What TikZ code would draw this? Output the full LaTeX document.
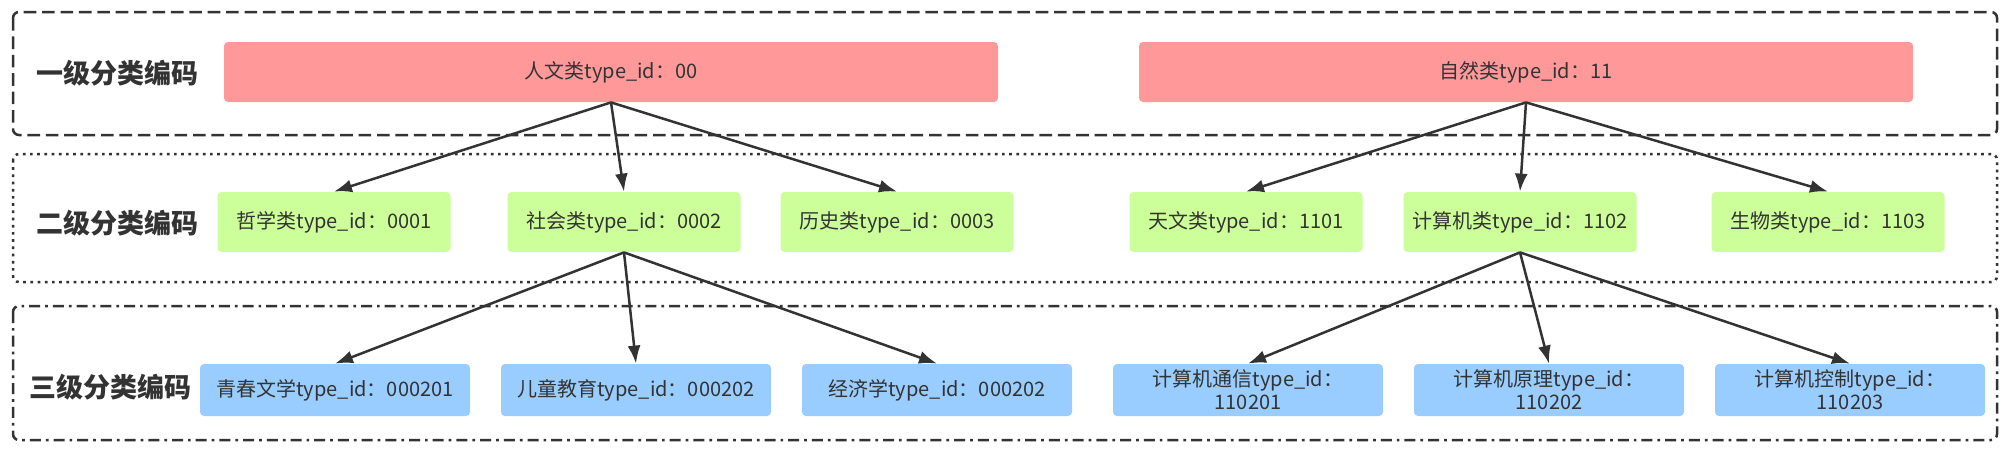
\documentclass[tikz,border=0pt]{standalone}
\usepackage{fontspec}
\setmainfont{Noto Sans CJK SC}
\usetikzlibrary{arrows.meta}
\definecolor{inkgray}{HTML}{333333}
\definecolor{redfill}{HTML}{FF9999}
\definecolor{greenfill}{HTML}{CCFF99}
\definecolor{bluefill}{HTML}{99CCFF}
\tikzset{
  catnode/.style  = {shape=rectangle, rounded corners=2pt, align=center,
                     inner sep=0pt, text=inkgray,
                     font=\fontsize{10}{11.5}\selectfont},
  first/.style    = {catnode, fill=redfill, minimum width=387pt, minimum height=30pt},
  second/.style   = {catnode, fill=greenfill, minimum width=116.5pt, minimum height=30pt},
  third/.style    = {catnode, fill=bluefill, minimum width=135pt, minimum height=26pt},
  levellabel/.style = {text=inkgray, font=\fontsize{13.5}{16}\selectfont\bfseries},
  frame/.style    = {draw=inkgray, line width=1.25pt, rounded corners=3pt}
}

\begin{document}
\begin{tikzpicture}[
    x = 0.5pt, y = -0.5pt,
    grow                    = down,
    level 1/.style          = {level distance=75pt, sibling distance=143pt},
    level 2/.style          = {level distance=84pt, sibling distance=150.5pt},
    edge from parent/.style = {draw=inkgray, line width=1.25pt, -{Latex[length=9pt,width=6.5pt]}},
    edge from parent path   = {(\tikzparentnode.south) -- (\tikzchildnode.north)}
  ]
  \useasboundingbox (0,0) rectangle (2006,451);

  % frames of the three levels
  \draw[frame, dash pattern=on 6.3pt off 2.9pt] (13,12) rectangle (1997,135);
  \draw[frame, dash pattern=on 1.35pt off 2.25pt] (13,154) rectangle (1997,282);
  \draw[frame, dash pattern=on 5.5pt off 2.5pt on 1.35pt off 2.5pt] (13,306) rectangle (1997,440);

  \node [levellabel] (lab1) at (117,73)  {一级分类编码};
  \node [levellabel] (lab2) at (117,223) {二级分类编码};
  \node [levellabel] (lab3) at (110,387) {三级分类编码};

  % humanities
  \node [first] (renwen) at (611,72) {人文类type\_id：00}
    child [xshift=4.5pt] { node [second] (zhexue) {哲学类type\_id：0001} }
    child [xshift=6.5pt] { node [second] (shehui) {社会类type\_id：0002}
      child [xshift=6pt] { node [third] (qingchun) {青春文学type\_id：000201} }
      child [xshift=6pt] { node [third] (ertong) {儿童教育type\_id：000202} }
      child [xshift=6pt] { node [third] (jingji) {经济学type\_id：000202} }
    }
    child { node [second] (lishi) {历史类type\_id：0003} };

  % natural sciences
  \node [first] (ziran) at (1526,72) {自然类type\_id：11}
    child [xshift=3pt] { node [second] (tianwen) {天文类type\_id：1101} }
    child [xshift=-3pt] { node [second] (jisuanji) {计算机类type\_id：1102}
      child [xshift=14.5pt] { node [third] (tongxin) {计算机通信type\_id：\\110201} }
      child [xshift=14.5pt] { node [third] (yuanli) {计算机原理type\_id：\\110202} }
      child [xshift=14.5pt] { node [third] (kongzhi) {计算机控制type\_id：\\110203} }
    }
    child [xshift=8pt] { node [second] (shengwu) {生物类type\_id：1103} };

\end{tikzpicture}
\end{document}
